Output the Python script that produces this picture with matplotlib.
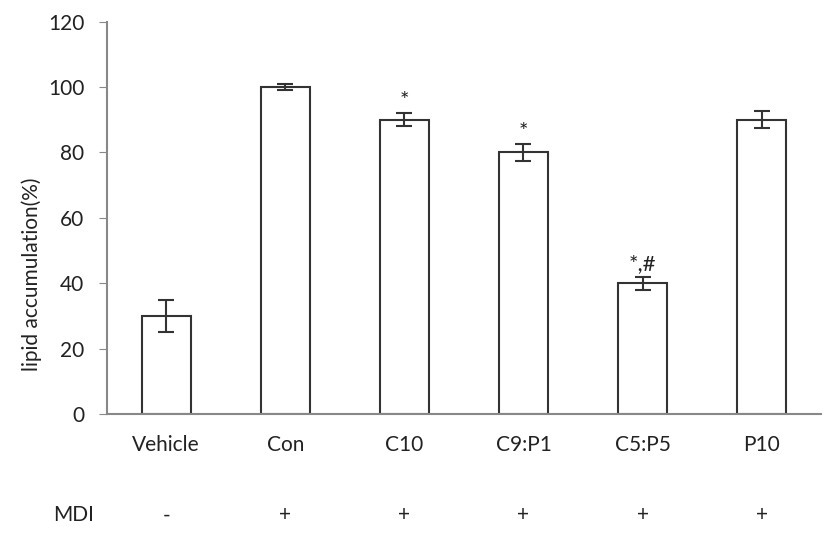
import matplotlib
matplotlib.use("Agg")
from matplotlib import pyplot as plt
import numpy as np

plt.rcParams['font.family'] = ['Lato', 'DejaVu Sans']

groups = ['Vehicle', 'Con', 'C10', 'C9:P1', 'C5:P5', 'P10']
values = [30, 100, 90, 80, 40, 90]
errors = [5, 1, 2, 2.5, 2, 2.5]
marks = ['', '', '*', '*', '*,#', '']
mdi = ['-', '+', '+', '+', '+', '+']

fig = plt.figure(figsize=(8.27, 5.39), dpi=100)
ax = fig.add_axes([0.129, 0.232, 0.864, 0.728])

x = np.arange(len(groups))
ax.bar(x, values, width=0.41, color='white', edgecolor='#333333', linewidth=1.5,
       yerr=errors, capsize=6, error_kw=dict(ecolor='#333333', elinewidth=1.5, capthick=1.5))

# significance marks above error bars
for xi, v, e, m in zip(x, values, errors, marks):
    if m:
        ax.text(xi, v + e + 0.8, m, ha='center', va='bottom', fontsize=16, color='#222222')

ax.set_xlim(-0.5, len(groups) - 0.5)
ax.set_ylim(0, 120)
ax.set_yticks(np.arange(0, 121, 20))
ax.set_xticks(x)
ax.set_xticklabels(groups)
ax.tick_params(axis='x', length=0, pad=15, labelsize=15, labelcolor='#222222')
ax.tick_params(axis='y', length=6, color='#888888', direction='out', labelsize=15,
               pad=10, labelcolor='#222222')
ax.set_ylabel('lipid accumulation(%)', fontsize=15, color='#222222')
ax.yaxis.set_label_coords(-0.09, 0.355)

for s in ['top', 'right']:
    ax.spines[s].set_visible(False)
for s in ['left', 'bottom']:
    ax.spines[s].set_color('#888888')
    ax.spines[s].set_linewidth(1.5)

# MDI row below the axis
ax.text(-0.78, -31, 'MDI', ha='center', va='center', fontsize=15, color='#222222', clip_on=False)
for xi, m in zip(x, mdi):
    ax.text(xi, -31, m, ha='center', va='center', fontsize=15, color='#222222', clip_on=False)

fig.savefig('out.png', dpi=100)
